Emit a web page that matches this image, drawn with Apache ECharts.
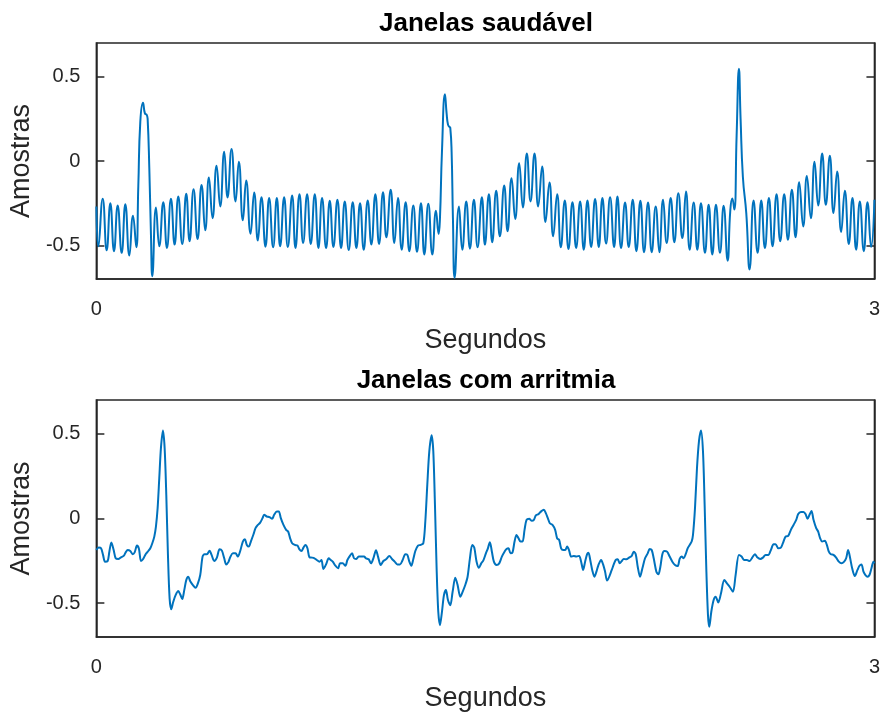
<!DOCTYPE html>
<html>
<head>
<meta charset="utf-8">
<script src="https://cdn.jsdelivr.net/npm/echarts@6/dist/echarts.min.js"></script>
<style>
html,body{margin:0;padding:0;background:#fff;}
#chart{width:883px;height:715px;}
</style>
</head>
<body>
<div id="chart"></div>
<script>
const titles = ['Janelas saudável', 'Janelas com arritmia'];
const xLabel = 'Segundos';
const yLabel = 'Amostras';
const xTicks = [0, 3];
const yTicks = [-0.5, 0, 0.5];

// Top panel: healthy windows (time in s, amplitude)
const topT = [0,0.0077,0.0244,0.0398,0.0539,0.068,0.0822,0.0976,0.1117,0.1271,0.1412,0.154,0.1617,0.1694,0.1797,0.1874,0.1938,0.1977,0.2041,0.2105,0.2157,0.2298,0.2426,0.258,0.2721,0.2876,0.3017,0.3158,0.3312,0.3466,0.3594,0.3748,0.3902,0.4056,0.4198,0.4339,0.448,0.4634,0.4775,0.4929,
0.5058,0.5212,0.5366,0.5494,0.5648,0.5777,0.5944,0.6085,0.6226,0.6367,0.6521,0.6662,0.6816,0.6958,0.7086,0.724,0.7381,0.7548,0.7677,0.7831,0.7972,0.8126,0.8267,0.8421,0.8562,0.8703,0.8858,0.8999,0.914,0.9294,0.9435,0.9577,0.9731,0.9885,
1.0026,1.0167,1.0308,1.0462,1.0603,1.0757,1.0899,1.1053,1.1181,1.1348,1.1489,1.163,1.1772,1.1926,1.2067,1.2221,1.2362,1.2516,1.2645,1.2799,1.2953,1.3094,1.3197,1.3248,1.3325,1.344,1.3505,1.3556,1.3607,1.3646,1.3697,1.3748,1.3813,1.398,1.4108,1.4262,1.4403,1.4557,1.4698,1.4865,
1.4981,1.5135,1.5263,1.5417,1.5558,1.5725,1.5854,1.6008,1.6149,1.6303,1.6444,1.6598,1.674,1.6894,1.7035,1.7189,1.7317,1.7471,1.7613,1.7767,1.7908,1.8062,1.8203,1.8357,1.8498,1.8652,1.8793,1.8935,1.9076,1.923,1.9371,1.9512,1.9653,1.9807,1.9962,
2.009,2.0231,2.0385,2.0526,2.068,2.0822,2.0976,2.1117,2.1271,2.1412,2.1566,2.1707,2.1849,2.199,2.2144,2.2285,2.2439,2.2593,2.2734,2.2876,2.303,2.3171,2.3312,2.3466,2.3607,2.3749,2.389,2.4044,2.4185,2.4339,2.4443,2.452,2.4597,2.4686,2.4775,2.4839,2.4928,2.5059,2.5186,2.534,
2.5494,2.5636,2.5777,2.5931,2.6072,2.6226,2.6367,2.6521,2.6663,2.6817,2.6958,2.7099,2.7253,2.7394,2.7548,2.769,2.7831,2.7985,2.8126,2.828,2.8421,2.8563,2.8717,2.8858,2.9012,2.9153,2.9294,2.9436,2.959,2.9731,2.9872,3.0];
const topV = [-0.27,-0.506,-0.224,-0.53,-0.25,-0.535,-0.264,-0.545,-0.256,-0.561,-0.325,-0.512,-0.15,0.232,0.346,0.281,0.275,0.25,-0.04,-0.437,-0.683,-0.276,-0.506,-0.244,-0.516,-0.224,-0.496,-0.21,-0.492,-0.195,-0.476,-0.167,-0.463,-0.142,-0.411,-0.098,-0.339,-0.028,-0.27,0.055,
-0.217,0.071,-0.24,-0.004,-0.352,-0.116,-0.431,-0.187,-0.472,-0.215,-0.508,-0.22,-0.512,-0.22,-0.506,-0.215,-0.51,-0.205,-0.516,-0.197,-0.486,-0.197,-0.492,-0.197,-0.516,-0.22,-0.516,-0.236,-0.51,-0.23,-0.516,-0.24,-0.528,-0.244,
-0.516,-0.25,-0.526,-0.234,-0.496,-0.197,-0.492,-0.185,-0.453,-0.171,-0.486,-0.22,-0.526,-0.244,-0.535,-0.264,-0.539,-0.25,-0.555,-0.254,-0.555,-0.295,-0.433,-0.339,0.055,0.396,0.281,0.217,0.203,0.197,0.055,-0.339,-0.693,-0.27,-0.526,-0.24,-0.52,-0.23,-0.512,-0.215,
-0.496,-0.197,-0.482,-0.177,-0.447,-0.146,-0.417,-0.102,-0.344,-0.014,-0.276,0.045,-0.24,0.045,-0.27,-0.033,-0.362,-0.128,-0.447,-0.197,-0.512,-0.234,-0.522,-0.244,-0.516,-0.24,-0.526,-0.234,-0.51,-0.226,-0.51,-0.22,-0.49,-0.215,-0.51,
-0.211,-0.516,-0.246,-0.51,-0.23,-0.535,-0.236,-0.541,-0.246,-0.541,-0.27,-0.541,-0.23,-0.486,-0.22,-0.482,-0.191,-0.457,-0.181,-0.526,-0.246,-0.526,-0.25,-0.545,-0.26,-0.555,-0.26,-0.545,-0.266,-0.591,-0.292,-0.223,-0.288,0.15,0.547,0.25,-0.095,-0.311,-0.643,-0.234,
-0.545,-0.234,-0.516,-0.22,-0.506,-0.197,-0.476,-0.197,-0.467,-0.171,-0.453,-0.126,-0.388,-0.089,-0.339,-0.004,-0.264,0.045,-0.26,0.031,-0.309,-0.063,-0.421,-0.177,-0.492,-0.22,-0.526,-0.24,-0.535,-0.244,-0.51,-0.23];

// Bottom panel: arrhythmia windows (time in s, amplitude)
const botT = [0,0.009,0.018,0.0257,0.0334,0.0436,0.0501,0.0578,0.0667,0.0745,0.0847,0.095,0.1053,0.113,0.1207,0.1309,0.1399,0.1476,0.1566,0.1643,0.172,0.1797,0.19,0.2003,0.208,0.2157,0.2234,0.2298,0.2362,0.2426,0.249,0.2567,0.2632,0.2696,0.276,0.2824,0.2888,0.2965,0.3055,0.3158,0.3235,0.3312,0.3389,0.3466,0.3543,0.362,0.3723,0.3825,0.3915,0.4005,0.4095,0.4172,0.4262,0.4365,0.4442,0.4544,0.4647,0.475,0.484,0.4929,0.5006,0.5096,0.516,0.5263,0.5366,0.5456,0.5546,0.5648,0.5725,0.5802,0.5879,0.5956,0.6059,0.6136,0.6226,0.6316,0.6406,0.647,0.6572,0.6675,0.6778,0.6855,0.6958,0.7035,0.7112,0.7214,0.7317,0.7394,0.7471,0.7548,0.7651,0.7753,0.783,0.7907,0.7985,0.8062,0.8139,0.8216,0.8318,0.8408,0.8498,0.8601,0.8678,0.8755,0.8857,0.896,0.9037,0.9114,0.9217,0.932,0.9397,0.9499,0.9602,0.9679,
0.9782,0.9859,0.9936,1.0013,1.0116,1.0218,1.0321,1.0398,1.0501,1.0591,1.068,1.0783,1.086,1.0963,1.1065,1.1168,1.1297,1.1399,1.1502,1.1605,1.1707,1.181,1.1913,1.199,1.2067,1.2144,1.2221,1.2298,1.2401,1.2503,1.2606,1.2683,1.276,1.2837,1.2927,1.2991,1.3055,1.3119,1.3183,1.3248,1.3325,1.3402,1.3479,1.3556,1.3646,1.3736,1.3838,1.3928,1.4031,1.4121,1.4223,1.4313,1.4403,1.4493,1.457,1.466,1.475,1.484,1.4917,1.5019,1.5096,1.5173,1.525,1.5327,1.543,1.5533,1.5635,1.5738,1.5815,1.5892,1.5969,1.6046,1.6124,1.6201,1.6278,1.6355,1.6432,1.6509,1.6586,1.6688,1.6791,1.6868,1.6945,1.7048,1.715,1.7253,1.733,1.7407,1.7484,1.7587,1.7689,1.7766,1.7843,1.792,1.7997,1.8075,1.8152,1.8229,1.8306,1.8408,1.8511,1.8614,1.8691,1.8768,1.8845,1.8922,1.8973,1.905,1.9127,1.9204,1.9281,1.9358,1.9461,1.9538,1.9615,1.9692,
1.9872,1.9949,2.0026,2.0103,2.018,2.0257,2.0334,2.0437,2.0539,2.0642,2.0719,2.0796,2.0873,2.0963,2.1053,2.1155,2.1258,2.1335,2.1412,2.1489,2.1592,2.1669,2.1746,2.1823,2.19,2.2003,2.2105,2.2208,2.2311,2.2413,2.249,2.2567,2.2644,2.2721,2.2798,2.2875,2.2953,2.3004,2.3081,2.3158,2.3235,2.3312,2.3389,2.3453,2.3517,2.3582,2.3633,2.371,2.38,2.3877,2.398,2.4082,2.4211,2.4313,2.4416,2.4544,2.4647,2.4775,2.4878,2.4981,2.5083,2.5186,2.5289,2.5391,2.5494,2.5597,2.57,2.5802,2.5905,2.6008,2.6111,2.6188,2.629,2.6393,2.647,2.6573,2.6675,2.6778,2.6881,2.6983,2.706,2.7163,2.7266,2.7343,2.742,2.7497,2.7574,2.7651,2.7754,2.7831,2.7908,2.7985,2.8088,2.8165,2.8242,2.8319,2.8421,2.8524,2.8627,2.873,2.8832,2.8909,2.8986,2.9064,2.9141,2.9243,2.9346,2.9423,2.95,2.9577,2.9654,2.9731,2.9808,2.9885,2.9962,3.0];
const botV = [-0.186,-0.172,-0.176,-0.215,-0.255,-0.251,-0.196,-0.142,-0.186,-0.235,-0.239,-0.229,-0.221,-0.2,-0.186,-0.192,-0.211,-0.2,-0.16,-0.18,-0.251,-0.241,-0.211,-0.192,-0.176,-0.146,-0.107,-0.047,0.061,0.239,0.417,0.52,0.417,0.14,-0.215,-0.472,-0.536,-0.492,-0.453,-0.429,-0.449,-0.476,-0.423,-0.364,-0.344,-0.37,-0.393,-0.409,-0.383,-0.334,-0.225,-0.211,-0.211,-0.19,-0.215,-0.251,-0.231,-0.182,-0.19,-0.235,-0.271,-0.255,-0.229,-0.206,-0.206,-0.225,-0.192,-0.136,-0.123,-0.156,-0.166,-0.136,-0.093,-0.057,-0.038,-0.024,0.002,0.022,0.012,0.008,-0.002,0.022,0.042,0.042,0.002,-0.038,-0.067,-0.077,-0.117,-0.146,-0.156,-0.16,-0.182,-0.192,-0.172,-0.156,-0.176,-0.229,-0.231,-0.235,-0.245,-0.255,-0.245,-0.298,-0.271,-0.235,-0.245,-0.255,-0.279,-0.294,-0.265,-0.265,-0.279,-0.245,
-0.219,-0.206,-0.235,-0.239,-0.225,-0.225,-0.225,-0.235,-0.241,-0.265,-0.235,-0.188,-0.225,-0.275,-0.251,-0.241,-0.221,-0.239,-0.255,-0.271,-0.271,-0.245,-0.211,-0.215,-0.255,-0.279,-0.239,-0.192,-0.16,-0.156,-0.146,-0.018,0.2,0.397,0.492,0.397,0.081,-0.294,-0.551,-0.63,-0.551,-0.453,-0.423,-0.482,-0.512,-0.433,-0.35,-0.393,-0.462,-0.433,-0.393,-0.344,-0.235,-0.156,-0.172,-0.255,-0.291,-0.265,-0.249,-0.206,-0.176,-0.14,-0.196,-0.255,-0.275,-0.265,-0.225,-0.196,-0.18,-0.176,-0.206,-0.2,-0.136,-0.097,-0.117,-0.136,-0.136,-0.067,-0.008,-0.002,-0.014,-0.008,0.018,0.026,0.042,0.051,0.032,0.002,-0.028,-0.038,-0.067,-0.117,-0.126,-0.176,-0.186,-0.186,-0.166,-0.19,-0.225,-0.221,-0.225,-0.221,-0.255,-0.304,-0.255,-0.211,-0.202,-0.251,-0.31,-0.344,-0.314,-0.275,-0.245,-0.271,-0.314,-0.366,
-0.304,-0.271,-0.245,-0.241,-0.265,-0.251,-0.239,-0.241,-0.231,-0.221,-0.196,-0.211,-0.285,-0.344,-0.294,-0.235,-0.206,-0.18,-0.186,-0.235,-0.314,-0.33,-0.285,-0.211,-0.192,-0.196,-0.225,-0.255,-0.275,-0.281,-0.239,-0.225,-0.235,-0.211,-0.176,-0.156,-0.136,-0.097,0.061,0.298,0.457,0.52,0.397,0.081,-0.294,-0.571,-0.64,-0.551,-0.482,-0.462,-0.496,-0.443,-0.364,-0.383,-0.403,-0.433,-0.334,-0.215,-0.225,-0.245,-0.245,-0.251,-0.231,-0.211,-0.231,-0.239,-0.231,-0.215,-0.215,-0.186,-0.152,-0.152,-0.176,-0.172,-0.146,-0.107,-0.103,-0.067,-0.038,-0.008,0.026,0.038,0.038,0.026,-0.002,0.022,0.045,-0.008,-0.057,-0.077,-0.117,-0.136,-0.132,-0.156,-0.196,-0.211,-0.215,-0.231,-0.255,-0.265,-0.255,-0.235,-0.186,-0.235,-0.294,-0.34,-0.304,-0.279,-0.271,-0.314,-0.334,-0.344,-0.334,-0.294,-0.255,-0.265];

const FONT = 'Liberation Sans, Arial, Helvetica, sans-serif';
const AX = '#262626';
const chart = echarts.init(document.getElementById('chart'), null, {renderer: 'canvas'});

const grids = [
  {left: 96, right: 7, top: 43, height: 236},
  {left: 96, right: 7, top: 400, height: 237}
].map(g => Object.assign(g, {show: true, borderColor: AX, borderWidth: 1.5, backgroundColor: '#fff', containLabel: false}));

function xAx(i) {
  return {
    gridIndex: i, type: 'value', min: 0, max: 3, position: 'bottom',
    axisLine: {show: true, onZero: false, lineStyle: {color: AX, width: 1.5}},
    axisTick: {show: false},
    splitLine: {show: false},
    axisLabel: {customValues: xTicks, color: AX, fontSize: 20, fontFamily: FONT, margin: 20},
    name: xLabel, nameLocation: 'middle', nameGap: 48,
    nameTextStyle: {color: AX, fontSize: 27, fontFamily: FONT}
  };
}
function yAx(i, right) {
  const ax = {
    gridIndex: i, type: 'value', min: -0.7, max: 0.7, position: right ? 'right' : 'left',
    axisLine: {show: true, onZero: false, lineStyle: {color: AX, width: 1.5}},
    axisTick: {show: true, inside: true, length: 8, customValues: yTicks, lineStyle: {color: AX, width: 1.5}},
    splitLine: {show: false},
    axisLabel: {show: !right, customValues: yTicks, color: AX, fontSize: 20, fontFamily: FONT, margin: 16}
  };
  if (!right) {
    ax.name = yLabel; ax.nameLocation = 'middle'; ax.nameGap = 58;
    ax.nameTextStyle = {color: AX, fontSize: 27, fontFamily: FONT};
  }
  return ax;
}

const option = {
  animation: false,
  backgroundColor: '#fff',
  title: [
    {text: titles[0], left: 486, top: 11, textAlign: 'center', padding: 0,
     textStyle: {fontSize: 26, fontWeight: 'bold', color: '#000', fontFamily: FONT}},
    {text: titles[1], left: 486, top: 368, textAlign: 'center', padding: 0,
     textStyle: {fontSize: 26, fontWeight: 'bold', color: '#000', fontFamily: FONT}}
  ],
  grid: grids,
  xAxis: [xAx(0), xAx(1)],
  yAxis: [yAx(0, false), yAx(0, true), yAx(1, false), yAx(1, true)],
  series: [
    {type: 'line', xAxisIndex: 0, yAxisIndex: 0, showSymbol: false, smooth: 0.5,
     data: topT.map((t, k) => [t, topV[k]]),
     lineStyle: {color: '#0072BD', width: 2}},
    {type: 'line', xAxisIndex: 1, yAxisIndex: 2, showSymbol: false, smooth: 0.3,
     data: botT.map((t, k) => [t, botV[k]]),
     lineStyle: {color: '#0072BD', width: 2}}
  ]
};
chart.setOption(option);
</script>
</body>
</html>
